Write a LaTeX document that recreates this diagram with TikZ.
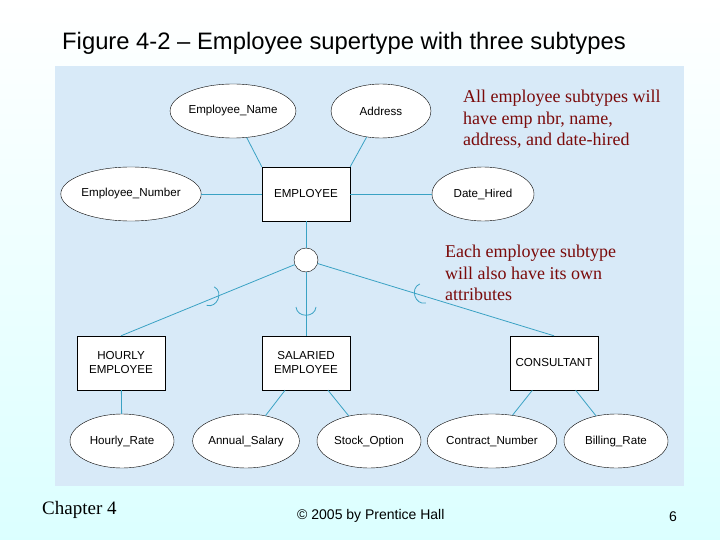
\documentclass[tikz,border=0pt]{standalone}
\usepackage{fontspec}
\setmainfont{Liberation Serif}
\setsansfont{Liberation Sans}
\usetikzlibrary{shapes.geometric}
\definecolor{panel}{HTML}{D8EAF8}
\definecolor{lnk}{HTML}{3AA2C4}
\definecolor{note}{HTML}{7A0A0A}
\begin{document}
\begin{tikzpicture}[x=1pt,y=-1pt,
  ent/.style={draw,fill=white,minimum width=88pt,minimum height=54pt,font=\sffamily\fontsize{11.6}{14}\selectfont,align=center,inner sep=1pt},
  att/.style={draw,fill=white,ellipse,minimum height=54pt,minimum width=104pt,inner sep=0pt,font=\sffamily\fontsize{11.6}{14}\selectfont},
  lk/.style={draw=lnk,line width=0.8pt},
  subsetarc/.style={lk},
  notetxt/.style={font=\fontsize{18}{21.5}\selectfont,text=note,align=left,anchor=north west,inner sep=0pt}]
\shade[top color=white,bottom color=cyan!14] (0,0) rectangle (720,540);
\useasboundingbox (0,0) rectangle (720,540);
\fill[panel] (55,66) rectangle (684,486);
\node[font=\sffamily\fontsize{23.8}{28}\selectfont,anchor=west,inner sep=0pt] (title) at (62,43) {Figure 4-2 – Employee supertype with three subtypes};
\node[ent] (emp) at (306,194) {EMPLOYEE};
\node[att] (en) at (233,111) {Employee\_Name};
\node[att,minimum width=100pt] (ad) at (381,111) {Address};
\node[att,minimum width=106pt] (enum) at (131,194) {Employee\_Number};
\node[att,minimum width=102pt] (dh) at (483,194) {Date\_Hired};
\node[draw,circle,fill=white,minimum size=24pt,inner sep=0pt] (c) at (306,260) {};
\node[ent] (hr) at (121,363) {HOURLY\\EMPLOYEE};
\node[ent] (sa) at (306,363) {SALARIED\\EMPLOYEE};
\node[ent] (co) at (554,363) {CONSULTANT};
\node[att] (hrate) at (122,441) {Hourly\_Rate};
\node[att] (asal) at (246,441) {Annual\_Salary};
\node[att] (sopt) at (369,441) {Stock\_Option};
\node[att] (cnum) at (492,441) {Contract\_Number};
\node[att] (brate) at (616,441) {Billing\_Rate};
\draw[lk] (en) -- (emp.north west);
\draw[lk] (ad) -- (emp.north east);
\draw[lk] (enum) -- (emp);
\draw[lk] (dh) -- (emp);
\draw[lk] (emp) -- (c);
\draw[lk] (c) -- (hr.north);
\draw[lk] (c) -- (sa.north);
\draw[lk] (c) -- (co.north);
\draw[lk] (hr) -- (hrate);
\draw[lk] (sa) -- (asal);
\draw[lk] (sa) -- (sopt);
\draw[lk] (co) -- (cnum);
\draw[lk] (co) -- (brate);
% subset symbols, opening toward the circle
\foreach \px/\py/\ang in {215/298/-22.7, 306/312/-90, 418/295/-162.6}{
  \begin{scope}[shift={(\px,\py)},rotate=\ang]
    \draw[subsetarc] (-5,-10) .. controls (6,-9) and (6,9) .. (-5,10);
  \end{scope}
}
\node[notetxt] (n1) at (463,90) {All employee subtypes will\\have emp nbr, name,\\address, and date-hired};
\node[notetxt] (n2) at (445,245) {Each employee subtype\\will also have its own\\attributes};
\node[font=\fontsize{19}{22}\selectfont,anchor=west,inner sep=0pt] (ch) at (42,510) {Chapter 4};
\node[font=\sffamily\fontsize{14}{16}\selectfont,anchor=west,inner sep=0pt] (cp) at (297,516) {© 2005 by Prentice Hall};
\node[font=\sffamily\fontsize{14}{16}\selectfont] (pg) at (673,517) {6};
\end{tikzpicture}
\end{document}
